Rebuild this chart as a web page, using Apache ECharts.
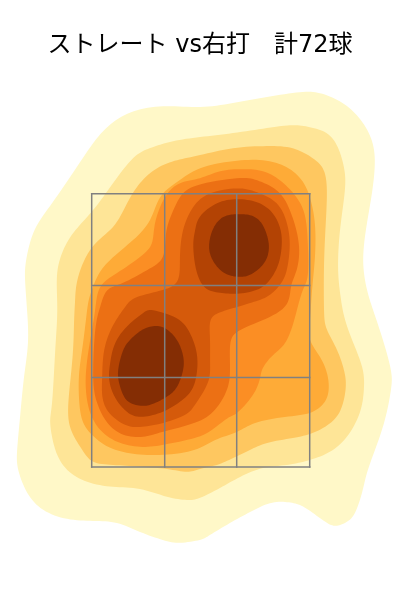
<!DOCTYPE html>
<html><head><meta charset="utf-8">
<style>html,body{margin:0;padding:0;background:#fff}#c{width:400px;height:600px}</style>
<script src="https://cdn.jsdelivr.net/npm/echarts@6/dist/echarts.min.js"></script>
</head><body><div id="c"></div>
<script>
const titleText = "ストレート vs右打　計72球";
const zoneX = [-108.3,-35.3,36.7,109.7];
const zoneY = [133,222.5,314.5,406.3];
const levelColors = ["#fff8c8","#fee597","#fec760","#feab37","#fb8e24","#ec7014","#d55a0b","#b34304","#842d04"];
const band1 = [[-33,494],[0,493],[33,497],[67,503],[100,508],[120,507],[140,499],[157,485],[170,465],[175,440],[172,407],[167,377],[163,340],[167,310],[173,290],[183,260],[191,230],[191,210],[185,180],[175,150],[167,127],[162,107],[155,87],[147,78],[137,74],[127,77],[113,87],[100,95],[87,98],[70,97],[50,88],[30,77],[10,65],[0,60],[-20,57],[-37,60],[-60,68],[-83,77],[-107,79],[-133,81],[-157,90],[-173,107],[-182,130],[-183,150],[-180,183],[-176,223],[-172,257],[-173,290],[-175,320],[-174,340],[-167,367],[-153,390],[-130,423],[-107,457],[-87,478],[-63,490]];
const band2 = [[-27,459],[0,463],[33,467],[67,472],[93,475],[110,473],[127,467],[138,453],[144,433],[145,410],[140,370],[138,333],[140,307],[145,280],[155,253],[163,230],[164,210],[160,187],[147,163],[130,148],[110,140],[87,135],[63,132],[40,123],[20,112],[0,102],[-13,100],[-33,103],[-60,111],[-87,113],[-113,118],[-133,130],[-145,150],[-150,177],[-148,197],[-145,247],[-143,280],[-143,303],[-143,327],[-138,347],[-127,367],[-107,390],[-87,417],[-67,442],[-50,452]];
const band3 = [[0,445],[33,452],[67,454],[93,452],[113,442],[124,430],[127,410],[126,380],[124,337],[124,290],[127,270],[137,250],[144,230],[146,213],[142,193],[132,178],[113,167],[93,162],[67,157],[50,150],[33,142],[17,135],[0,131],[-13,128],[-33,131],[-60,133],[-87,135],[-107,138],[-118,150],[-128,167],[-132,187],[-130,217],[-127,250],[-126,280],[-125,300],[-122,323],[-108,353],[-87,373],[-73,397],[-60,417],[-43,432],[-23,440]];
const band4 = [[0,432],[33,439],[63,440],[87,433],[102,420],[110,403],[115,377],[115,343],[112,310],[110,280],[110,260],[120,243],[127,227],[129,212],[125,198],[110,187],[85,183],[55,177],[37,168],[15,160],[-5,150],[-37,145],[-67,146],[-90,152],[-105,162],[-117,177],[-121,200],[-121,227],[-117,257],[-113,290],[-110,305],[-103,323],[-90,340],[-67,360],[-50,380],[-40,403],[-23,418]];
const band5 = [[0,422],[20,429],[43,431],[63,429],[80,420],[95,405],[105,385],[108,355],[108,325],[103,310],[97,290],[87,260],[73,245],[63,232],[60,222],[53,205],[37,187],[28,182],[12,170],[-5,162],[-37,155],[-60,153],[-83,158],[-100,170],[-110,187],[-114,207],[-114,230],[-110,260],[-105,290],[-100,313],[-83,327],[-60,343],[-48,357],[-45,377],[-35,403],[-20,417]];
const band6 = [[-3,415],[37,422],[57,420],[77,410],[90,390],[99,357],[97,330],[91,313],[85,293],[58,278],[37,268],[30,255],[30,230],[27,210],[15,190],[-5,177],[-37,168],[-57,163],[-77,165],[-93,177],[-103,197],[-107,223],[-105,270],[-100,293],[-93,310],[-77,317],[-53,330],[-37,343],[-34,367],[-28,387],[-20,403]];
const band7 = [[37,412],[57,408],[77,397],[87,377],[90,355],[87,330],[80,315],[67,303],[50,297],[37,293],[18,287],[10,278],[10,260],[10,237],[8,217],[-5,195],[-15,185],[-36,177],[-58,173],[-75,175],[-92,188],[-98,205],[-98,223],[-96,250],[-87,275],[-75,293],[-63,303],[-37,310],[-22,320],[-20,343],[-17,370],[-7,393],[10,407]];
const band8Upper = [[37,401],[57,398],[72,388],[80,373],[82,357],[79,337],[70,320],[57,310],[37,306],[20,307],[5,312],[-4,330],[-7,355],[-5,370],[0,384],[17,397]];
const band8Lower = [[-47,290],[-23,282],[-10,267],[-3,247],[-3,227],[-8,210],[-20,198],[-37,188],[-57,183],[-72,187],[-85,202],[-91,220],[-90,237],[-85,257],[-72,275],[-57,287]];
const band9Upper = [[38,386],[50,385],[60,379],[66,368],[69,355],[67,342],[60,332],[50,325],[40,323],[28,325],[18,332],[11,343],[9,355],[12,369],[19,380],[28,385]];
const band9Lower = [[-47,274],[-35,272],[-25,263],[-19,252],[-16,237],[-19,222],[-25,210],[-35,202],[-47,196],[-58,194],[-70,197],[-77,205],[-81,217],[-82,230],[-78,247],[-72,258],[-60,269]];

const contours = [
  [band1,0],[band2,1],[band3,2],[band4,3],[band5,4],[band6,5],[band7,6],
  [band8Upper,7],[band8Lower,7],[band9Upper,8],[band9Lower,8]
];
// closed cubic B-spline whose control net is relaxed towards the contour vertices
function roundContour(pts){
  const n=pts.length,steps=8;
  let c=pts.map(p=>p.slice());
  for(let it=0;it<2;it++){
    c=c.map((_,i)=>[0,1].map(k=>(6*pts[i][k]-c[(i-1+n)%n][k]-c[(i+1)%n][k])/4));
  }
  const out=[];
  for(let i=0;i<n;i++){
    const a=c[(i-1+n)%n],b=c[i],d=c[(i+1)%n],e=c[(i+2)%n];
    for(let s=0;s<steps;s++){
      const t=s/steps,t2=t*t,t3=t2*t;
      const w0=(1-3*t+3*t2-t3)/6,w1=(4-6*t2+3*t3)/6,w2=(1+3*t+3*t2-3*t3)/6,w3=t3/6;
      out.push([0,1].map(k=>w0*a[k]+w1*b[k]+w2*d[k]+w3*e[k]));
    }
  }
  return out;
}
const chart = echarts.init(document.getElementById('c'), null, {renderer:'canvas'});
const hiddenAxis = {show:false, scale:false};
chart.setOption({
  animation:false,
  backgroundColor:'#fff',
  title:{text:titleText,left:'center',top:29,textStyle:{fontFamily:'"DejaVu Sans","Noto Sans CJK JP"',fontSize:24,fontWeight:'normal',color:'#000'}},
  grid:{left:0,right:0,top:0,bottom:0},
  xAxis:Object.assign({type:'value',min:-200,max:200},hiddenAxis),
  yAxis:Object.assign({type:'value',min:0,max:600},hiddenAxis),
  series:[
    {type:'custom',coordinateSystem:'cartesian2d',silent:true,z:1,
     data:contours.map((c,i)=>[i]),
     renderItem:(p,api)=>{
       const c=contours[api.value(0)];
       return {type:'polygon',shape:{points:roundContour(c[0].map(q=>api.coord(q)))},style:{fill:levelColors[c[1]],stroke:null}};
     }},
    {type:'custom',coordinateSystem:'cartesian2d',silent:true,z:2,
     data:[[0]],
     renderItem:(p,api)=>{
       const style={stroke:'#808080',lineWidth:1.5,fill:null,lineCap:'square'};
       const kids=[];
       zoneX.forEach(x=>{const a=api.coord([x,zoneY[0]]),b=api.coord([x,zoneY[3]]);kids.push({type:'line',shape:{x1:a[0],y1:a[1],x2:b[0],y2:b[1]},style});});
       zoneY.forEach(y=>{const a=api.coord([zoneX[0],y]),b=api.coord([zoneX[3],y]);kids.push({type:'line',shape:{x1:a[0],y1:a[1],x2:b[0],y2:b[1]},style});});
       return {type:'group',children:kids};
     }}
  ]
});
</script></body></html>
